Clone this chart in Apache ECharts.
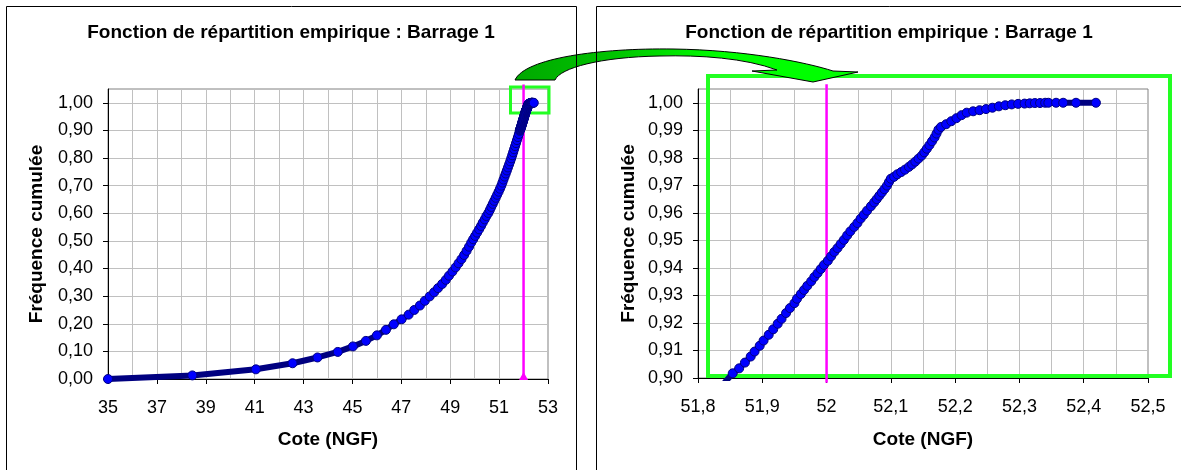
<!DOCTYPE html>
<html>
<head>
<meta charset="utf-8">
<script src="https://cdn.jsdelivr.net/npm/echarts@6/dist/echarts.min.js"></script>
<style>
html,body{margin:0;padding:0;background:#fff;}
#c{width:1181px;height:470px;}
</style>
</head>
<body>
<div id="c"></div>
<script>
// ---- data ----
const titre = 'Fonction de répartition empirique : Barrage 1';
const nomX = 'Cote (NGF)';
const nomY = 'Fréquence cumulée';

const cote = [
35.00,38.45,41.05,42.55,43.57,44.40,45.02,45.55,46.00,46.37,46.69,47.01,47.30,47.53,47.76,47.96,48.16,48.34,48.50,48.67,
48.82,48.95,49.09,49.22,49.34,49.46,49.57,49.67,49.77,49.86,49.94,50.02,50.10,50.18,50.26,50.33,50.41,50.48,50.56,50.62,
50.68,50.74,50.80,50.86,50.92,50.98,51.035,51.09,51.135,51.18,51.226,51.272,51.318,51.363,51.409,51.455,51.495,51.535,51.574,51.613,
51.652,51.691,51.730,51.769,51.808,51.842,51.854,51.864,51.873,51.882,51.888,51.896,51.902,51.910,51.917,51.924,51.930,51.937,51.943,51.950,
51.954,51.960,51.965,51.970,51.976,51.981,51.986,51.991,51.996,52.002,52.007,52.012,52.017,52.022,52.027,52.032,52.037,52.043,52.048,52.053,
52.058,52.063,52.069,52.074,52.078,52.082,52.086,52.090,52.094,52.097,52.100,52.105,52.110,52.116,52.122,52.128,52.133,52.138,52.143,52.148,
52.152,52.156,52.160,52.164,52.168,52.171,52.174,52.178,52.186,52.194,52.202,52.210,52.218,52.228,52.238,52.248,52.258,52.268,52.278,52.288,
52.298,52.308,52.316,52.324,52.332,52.340,52.345,52.357,52.368,52.388,52.419
];
const freq = [
0.000,0.013,0.035,0.057,0.078,0.098,0.118,0.138,0.158,0.178,0.198,0.216,0.233,0.250,0.266,0.283,0.299,0.314,0.329,0.344,
0.359,0.374,0.389,0.404,0.419,0.434,0.449,0.464,0.479,0.494,0.506,0.518,0.530,0.542,0.554,0.566,0.578,0.590,0.601,0.612,
0.623,0.634,0.645,0.656,0.667,0.678,0.689,0.700,0.711,0.722,0.733,0.744,0.755,0.766,0.777,0.788,0.799,0.810,0.821,0.832,
0.843,0.854,0.865,0.876,0.887,0.8985,0.9017,0.9035,0.9056,0.9078,0.9096,0.9117,0.9136,0.9157,0.9177,0.9197,0.9215,0.9236,0.9254,0.9272,
0.9288,0.9305,0.9320,0.9335,0.9351,0.9367,0.9381,0.9396,0.9411,0.9426,0.9442,0.9458,0.9472,0.9487,0.9502,0.9518,0.9533,0.9549,0.9563,0.9579,
0.9593,0.9608,0.9624,0.9638,0.9650,0.9662,0.9674,0.9686,0.9699,0.9712,0.9724,0.9731,0.9740,0.9748,0.9757,0.9767,0.9776,0.9786,0.9797,0.9808,
0.9820,0.9833,0.9846,0.9860,0.9874,0.9888,0.9902,0.9912,0.9922,0.9933,0.9944,0.9955,0.9964,0.9969,0.9973,0.9977,0.9982,0.9987,0.9991,0.9994,
0.9996,0.9997,0.9998,0.9999,0.9999,1.0000,1.0000,1.0000,1.0000,1.0000,1.0000
];

const seuil = 52;                      // vertical reference line (Cote)
const seuilGaucheY = [0, 1.066];       // extent of the reference line, left chart
const seuilDroiteY = [0.8983, 1.0067]; // extent of the reference line, right chart

const leftXTicks = [35,37,39,41,43,45,47,49,51,53];
const leftYTicks = [0,0.1,0.2,0.3,0.4,0.5,0.6,0.7,0.8,0.9,1.0];
const rightXTicks = [51.8,51.9,52.0,52.1,52.2,52.3,52.4,52.5];
const rightYTicks = [0.90,0.91,0.92,0.93,0.94,0.95,0.96,0.97,0.98,0.99,1.00];

// ---- arrow annotation shape ----
echarts.graphic.registerShape('flecheCourbe', echarts.graphic.extendShape({
  shape: {},
  buildPath: function (ctx) {
    ctx.moveTo(515, 80);
    ctx.bezierCurveTo(525, 58, 600, 48, 673, 49);
    ctx.bezierCurveTo(745, 50, 805, 62, 833, 71);
    ctx.lineTo(858, 72);
    ctx.lineTo(813, 82);
    ctx.lineTo(752, 71);
    ctx.lineTo(777, 70);
    ctx.bezierCurveTo(745, 58, 700, 55, 660, 56);
    ctx.bezierCurveTo(600, 57, 560, 68, 555, 80);
    ctx.closePath();
  }
}));

// ---- chart ----
const FONT = "'Liberation Sans', Arial, sans-serif";
const pts = cote.map((c, i) => [c, freq[i]]);
const fmtY = v => v.toFixed(2).replace('.', ',');
const fmtX = v => String(Math.round(v * 10) / 10).replace('.', ',');

const gridLine = { show: true, lineStyle: { color: '#c0c0c0', width: 1 } };
const lblStyle = { color: '#000', fontSize: 18, fontFamily: FONT };
const nameStyle = { color: '#000', fontSize: 19, fontWeight: 'bold', fontFamily: FONT };
const axLine = { show: true, onZero: false, lineStyle: { color: '#000', width: 1 } };
const tick = { show: true, inside: false, length: 5, lineStyle: { color: '#000' } };

const curveSeries = (xi, yi) => ({
  type: 'line', xAxisIndex: xi, yAxisIndex: yi, data: pts,
  symbol: 'circle', symbolSize: 9, showSymbol: true,
  lineStyle: { color: '#000080', width: 6 },
  itemStyle: { color: '#0000ff', borderColor: '#000080', borderWidth: 1 },
  z: 3, silent: true
});

const chart = echarts.init(document.getElementById('c'), null, { renderer: 'canvas' });
chart.setOption({
  animation: false,
  backgroundColor: '#fff',
  grid: [
    { left: 108, top: 89, width: 440, height: 290, show: true, borderColor: '#808080', borderWidth: 1, backgroundColor: 'transparent' },
    { left: 698, top: 89, width: 450, height: 289, show: true, borderColor: '#808080', borderWidth: 1, backgroundColor: 'transparent' }
  ],
  xAxis: [
    { gridIndex: 0, type: 'value', position: 'bottom', min: 35, max: 53, interval: 1,
      name: nomX, nameLocation: 'middle', nameGap: 51, nameTextStyle: nameStyle,
      axisLine: axLine, axisTick: { show: false },
      axisLabel: Object.assign({ customValues: leftXTicks, margin: 20, formatter: v => String(v) }, lblStyle),
      splitLine: gridLine },
    { gridIndex: 0, type: 'value', position: 'bottom', min: 35, max: 53,
      axisLine: { show: false }, axisLabel: { show: false }, splitLine: { show: false },
      axisTick: Object.assign({ customValues: leftXTicks }, tick) },
    { gridIndex: 1, type: 'value', position: 'bottom', min: 51.8, max: 52.5, interval: 0.1,
      name: nomX, nameLocation: 'middle', nameGap: 52, nameTextStyle: nameStyle,
      axisLine: axLine, axisTick: tick,
      axisLabel: Object.assign({ margin: 20, formatter: fmtX }, lblStyle),
      splitLine: gridLine,
      minorTick: { show: false, splitNumber: 2 },
      minorSplitLine: { show: true, lineStyle: { color: '#c0c0c0', width: 1 } } }
  ],
  yAxis: [
    { gridIndex: 0, type: 'value', min: 0, max: 1.05, interval: 0.1,
      name: nomY, nameLocation: 'middle', nameGap: 62, nameRotate: 90, nameTextStyle: nameStyle,
      axisLine: axLine, axisTick: Object.assign({ customValues: leftYTicks }, tick),
      axisLabel: Object.assign({ customValues: leftYTicks, margin: 15, formatter: fmtY }, lblStyle),
      splitLine: gridLine },
    { gridIndex: 1, type: 'value', min: 0.9, max: 1.005, interval: 0.01,
      name: nomY, nameLocation: 'middle', nameGap: 60, nameRotate: 90, nameTextStyle: nameStyle,
      axisLine: axLine, axisTick: Object.assign({ customValues: rightYTicks }, tick),
      axisLabel: Object.assign({ customValues: rightYTicks, margin: 15, formatter: fmtY }, lblStyle),
      splitLine: gridLine }
  ],
  series: [
    curveSeries(0, 0),
    curveSeries(2, 1),
    { type: 'line', xAxisIndex: 0, yAxisIndex: 0, clip: false, z: 2, silent: true,
      data: [ { value: [seuil, seuilGaucheY[0]], symbol: 'triangle', symbolSize: [9, 8], symbolOffset: [0, -3] },
              { value: [seuil, seuilGaucheY[1]], symbol: 'none' } ],
      lineStyle: { color: '#ff00ff', width: 2.5 }, itemStyle: { color: '#ff00ff' } },
    { type: 'line', xAxisIndex: 2, yAxisIndex: 1, clip: false, z: 2, silent: true, showSymbol: false,
      data: [[seuil, seuilDroiteY[0]], [seuil, seuilDroiteY[1]]],
      lineStyle: { color: '#ff00ff', width: 2.5 } }
  ],
  graphic: [
    { type: 'text', x: 291, y: 33, z: 20, silent: true,
      style: { text: titre, fill: '#000', font: "bold 19px " + FONT, align: 'center', verticalAlign: 'middle' } },
    { type: 'text', x: 889, y: 33, z: 20, silent: true,
      style: { text: titre, fill: '#000', font: "bold 19px " + FONT, align: 'center', verticalAlign: 'middle' } },
    // green highlight rectangles
    { type: 'rect', z: 1, silent: true, shape: { x: 510.5, y: 87, width: 38.5, height: 26 },
      style: { fill: 'none', stroke: '#22ff22', lineWidth: 3 } },
    { type: 'rect', z: 1, silent: true, shape: { x: 708, y: 76, width: 462, height: 300 },
      style: { fill: 'none', stroke: '#22ff22', lineWidth: 4 } },
    // curved arrow
    { type: 'flecheCourbe', z: 30, silent: true, shape: {},
      style: { stroke: '#000', lineWidth: 1,
        fill: new echarts.graphic.LinearGradient(0, 0, 1, 0, [
          { offset: 0, color: '#00a800' }, { offset: 0.3, color: '#00c400' },
          { offset: 0.6, color: '#00ff00' }, { offset: 1, color: '#00ff00' } ]) } },
    // frames of the two charts
    { type: 'rect', z: 40, silent: true, shape: { x: 6.5, y: 6.5, width: 570, height: 480 },
      style: { fill: 'none', stroke: '#000', lineWidth: 1 } },
    { type: 'rect', z: 40, silent: true, shape: { x: 596.5, y: 6.5, width: 620, height: 480 },
      style: { fill: 'none', stroke: '#000', lineWidth: 1 } }
  ]
});
</script>
</body>
</html>
